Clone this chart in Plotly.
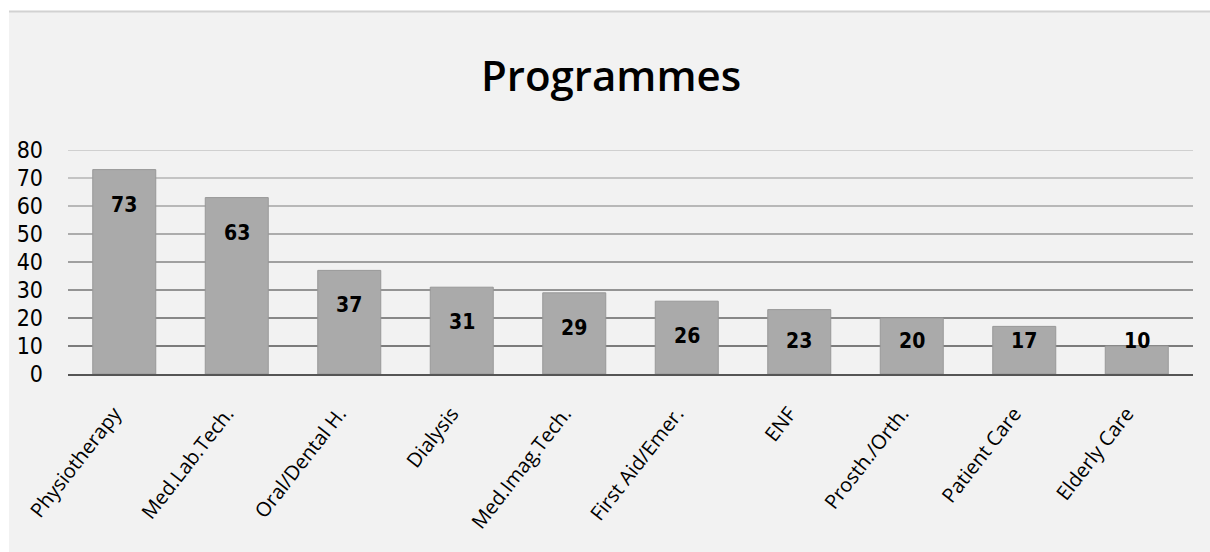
import plotly.graph_objects as go

categories = ["Physiotherapy", "Med.Lab.Tech.", "Oral/Dental H.", "Dialysis", "Med.Imag.Tech.",
              "First Aid/Emer.", "ENF", "Prosth./Orth.", "Patient Care", "Elderly Care"]
values = [73, 63, 37, 31, 29, 26, 23, 20, 17, 10]
y_ticks = [0, 10, 20, 30, 40, 50, 60, 70, 80]
title_text = "Programmes"

W, H = 1210, 552
L, R, T, B = 68, 17, 150, 178
pw, ph = W - L - R, H - T - B

def px_x(p):
    return (p - L) / pw

def px_y(p):
    return (H - B - p) / ph

narrow = "DejaVu Sans Condensed, DejaVu Sans, sans-serif"

fig = go.Figure()
fig.add_trace(go.Bar(
    x=categories, y=values,
    marker=dict(color="#aaaaaa", line=dict(color="#989898", width=1)),
    hoverinfo="skip",
))

shapes = []
shapes.append(dict(type="rect", xref="paper", yref="paper", x0=px_x(-5), x1=px_x(W + 5),
                   y0=px_y(11), y1=px_y(-5), fillcolor="white", line=dict(width=0), layer="above"))
shapes.append(dict(type="rect", xref="paper", yref="paper", x0=px_x(-5), x1=px_x(9),
                   y0=px_y(H + 5), y1=px_y(-5), fillcolor="white", line=dict(width=0), layer="above"))
shapes.append(dict(type="line", xref="paper", yref="paper", x0=px_x(9), x1=px_x(W + 5),
                   y0=px_y(11.5), y1=px_y(11.5), line=dict(color="#d2d2d2", width=2), layer="above"))

for t in y_ticks[1:]:
    frac = (t - y_ticks[0]) / (y_ticks[-1] - y_ticks[0])
    c = int(0x70 + (0xd0 - 0x70) * frac)
    shapes.append(dict(type="line", xref="paper", yref="y", x0=0, x1=1, y0=t, y1=t,
                       line=dict(color=f"rgb({c},{c},{c})", width=2), layer="below"))

annotations = []
for c_, v in zip(categories, values):
    annotations.append(dict(x=c_, y=max(v - 12.5, 11.8), xref="x", yref="y", text=f"<b>{v}</b>",
                            showarrow=False, font=dict(family=narrow, size=21, color="black"),
                            yanchor="middle", xanchor="center"))

fig.update_layout(
    width=W, height=H,
    margin=dict(l=L, r=R, t=T, b=B),
    paper_bgcolor="#f2f2f2",
    plot_bgcolor="#f2f2f2",
    showlegend=False,
    bargap=0.44,
    title=dict(text=title_text, x=0.505, xanchor="center", y=1 - 76 / H, yanchor="middle",
               yref="container", font=dict(family="Open Sans", size=42, color="black", weight=600)),
    shapes=shapes,
    annotations=annotations,
    xaxis=dict(
        tickangle=-52, tickfont=dict(family="Open Sans", size=20, color="black"),
        showgrid=False, showline=True, linecolor="#555555", linewidth=2,
        ticks="", ticklabelstandoff=18, ticklabelshift=-10,
    ),
    yaxis=dict(
        range=[0, 80], tickvals=y_ticks, showgrid=False, zeroline=False,
        tickfont=dict(family=narrow, size=23, color="black"),
        ticks="", ticklabelstandoff=24,
    ),
)

fig.write_html("out.html")
